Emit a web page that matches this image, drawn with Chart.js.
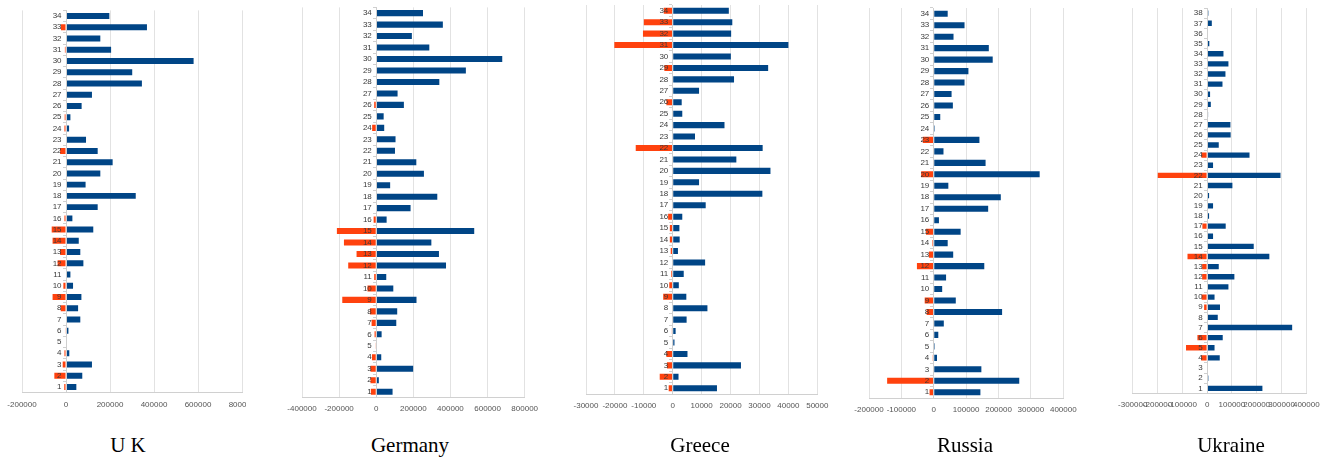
<!DOCTYPE html>
<html>
<head>
<meta charset="utf-8">
<script src="https://cdn.jsdelivr.net/npm/chart.js@4.4.1/dist/chart.umd.min.js"></script>
<style>
	body { margin: 0; background: #fff; width: 1322px; height: 460px; position: relative; overflow: hidden; }
	canvas { position: absolute; top: 0; }
	.ttl { position: absolute; top: 435px; font: 21px/21px "Liberation Serif", serif; color: #000; transform: translateX(-50%); white-space: nowrap; }
</style>
</head>
<body>
<canvas id="uk"></canvas>
<canvas id="de"></canvas>
<canvas id="gr"></canvas>
<canvas id="ru"></canvas>
<canvas id="ua"></canvas>
<div class="ttl" style="left:128px">U K</div>
<div class="ttl" style="left:410px">Germany</div>
<div class="ttl" style="left:700px">Greece</div>
<div class="ttl" style="left:965px">Russia</div>
<div class="ttl" style="left:1231px">Ukraine</div>
<script>
// values listed from category 1 upwards
const ukPos = [47000, 74000, 118000, 15000, 2000, 11000, 65000, 55000, 70000, 32000, 20000, 79000, 65000, 58000, 124000, 29000, 144000, 317000, 89000, 156000, 212000, 144000, 91000, 14000, 20000, 71000, 118000, 345000, 301000, 580000, 205000, 156000, 368000, 197000];
const ukNeg = [-8000, -53000, -15000, -7000, 0, -3000, 0, -24000, -61000, -12000, 0, -38000, -27000, -61000, -65000, -7000, 0, 0, 0, 0, 0, -27000, 0, -7000, -6000, 0, 0, 0, 0, 0, -5000, 0, -23000, 0];

const dePos = [88000, 14000, 199000, 27000, 2000, 29000, 108000, 113000, 217000, 92000, 54000, 376000, 338000, 297000, 528000, 56000, 185000, 329000, 75000, 257000, 216000, 101000, 104000, 43000, 40000, 149000, 115000, 340000, 483000, 679000, 286000, 192000, 359000, 252000];
const deNeg = [-29000, -31000, -31000, -23000, -2000, -9000, -25000, -34000, -183000, -47000, -11000, -151000, -106000, -174000, -212000, -14000, 0, 0, 0, 0, 0, 0, 0, -22000, 0, -11000, 0, 0, 0, 0, 0, 0, 0, 0];

const grPos = [15300, 2000, 23600, 5100, 600, 1000, 4800, 12000, 4700, 2100, 3800, 11200, 1800, 2400, 2300, 3300, 11400, 31000, 9100, 33800, 22000, 31100, 7700, 17900, 3300, 3100, 9100, 21200, 33000, 20100, 40000, 20200, 20600, 19400];
const grNeg = [-1400, -4500, -2000, -2200, 0, -300, 0, 0, -3300, -1200, -500, 0, -700, -1000, -1000, -1600, 0, 0, 0, 0, 0, -12800, 0, 0, 0, -2200, 0, 0, -2900, 0, -20200, -10300, -10000, -3100];

const ruPos = [144000, 264000, 147000, 10000, 3000, 14000, 31000, 211000, 68000, 26000, 38000, 156000, 60000, 43000, 83000, 16000, 168000, 207000, 45000, 327000, 160000, 30000, 141000, 3000, 20000, 59000, 55000, 95000, 107000, 182000, 170000, 61000, 95000, 43000];
const ruNeg = [-13000, -144000, 0, -3000, 0, -2000, 0, -22000, -28000, 0, 0, -52000, -15000, -4000, -24000, 0, 0, 0, 0, -39000, 0, 0, -34000, 0, 0, 0, 0, 0, 0, 0, 0, 0, 0, 0];

const uaPos = [223000, 5000, 1000, 51000, 30000, 63000, 343000, 43000, 52000, 30000, 86000, 110000, 47000, 251000, 188000, 24000, 75000, 8000, 24000, 8000, 102000, 296000, 24000, 171000, 47000, 95000, 94000, 4000, 15000, 12000, 62000, 74000, 86000, 66000, 9000, 3000, 19000, 5000];
const uaNeg = [0, 0, 0, -24000, -85000, -39000, 0, 0, -12000, -22000, 0, -20000, -20000, -79000, 0, 0, -19000, -2000, 0, 0, 0, -199000, 0, -23000, 0, 0, 0, 0, 0, 0, 0, 0, 0, 0, 0, 0, 0, 0];

const BLUE = "#004586";
const ORANGE = "#ff420e";
const TEXT = "#555";
const LABEL = "#3a3a3a";
const FONT = { family: "'Liberation Sans', Arial, sans-serif", size: 8 };
const H = 430;
const XAXIS_H = 30;

function makeLabels(n) {
	const out = [];
	for (let i = 1; i <= n; i++) out.push(String(i));
	return out;
}

/**
 * Draws one country panel; box gives the plot area in page pixels.
 */
function renderPanel(id, pos, neg, range, box) {
	const canvas = document.getElementById(id);
	const left = box.canvasLeft !== undefined ? box.canvasLeft : Math.floor(box.L) - 40;
	const right = box.canvasRight !== undefined ? box.canvasRight : Math.ceil(box.R) + 40;
	canvas.width = right - left;
	canvas.height = H;
	canvas.style.left = left + "px";

	new Chart(canvas.getContext("2d"), {
		type: "bar",
		data: {
			labels: makeLabels(pos.length),
			datasets: [
				{ data: neg, backgroundColor: ORANGE },
				{ data: pos, backgroundColor: BLUE },
			],
		},
		options: {
			indexAxis: "y",
			responsive: false,
			animation: false,
			events: [],
			barPercentage: 0.53,
			categoryPercentage: 1,
			layout: {
				padding: { left: box.L - left, right: right - box.R, top: box.T, bottom: H - box.B - XAXIS_H },
			},
			plugins: { legend: { display: false }, tooltip: { enabled: false } },
			scales: {
				x: {
					type: "linear",
					stacked: true,
					min: range[0],
					max: range[1],
					ticks: {
						stepSize: range[2],
						callback: (v) => String(v),
						color: TEXT,
						font: FONT,
						padding: 7,
						maxRotation: 0,
						autoSkip: false,
					},
					grid: { color: "#e2e2e2", drawTicks: false },
					border: { color: "#d0d0d0" },
					afterFit: (s) => { s.height = XAXIS_H; s.paddingLeft = 0; s.paddingRight = 0; },
				},
				y: {
					type: "category",
					stacked: true,
					reverse: true,
					position: { x: 0 },
					ticks: {
						color: LABEL,
						font: FONT,
						autoSkip: false,
						z: 1,
						callback: function (v) { return this.getLabelForValue(v) + "  "; },
					},
					grid: { drawOnChartArea: false, tickLength: 3, color: "#cfcfcf" },
					border: { color: "#cfcfcf", z: 1 },
					afterFit: (s) => { s.width = 0; s.paddingTop = 0; s.paddingBottom = 0; },
				},
			},
		},
	});
}

renderPanel("uk", ukPos, ukNeg, [-200000, 800000, 200000], { L: 22, R: 242, T: 10.4, B: 392.6, canvasLeft: 0, canvasRight: 246 });
renderPanel("de", dePos, deNeg, [-400000, 800000, 200000], { L: 302, R: 524.7, T: 7.4, B: 397.4 });
renderPanel("gr", grPos, grNeg, [-30000, 50000, 10000], { L: 586, R: 817.3, T: 5, B: 394 });
renderPanel("ru", ruPos, ruNeg, [-200000, 400000, 100000], { L: 869, R: 1063.3, T: 8, B: 398 });
renderPanel("ua", uaPos, uaNeg, [-300000, 400000, 100000], { L: 1132.7, R: 1306.3, T: 8.1, B: 393.4 });
</script>
</body>
</html>
